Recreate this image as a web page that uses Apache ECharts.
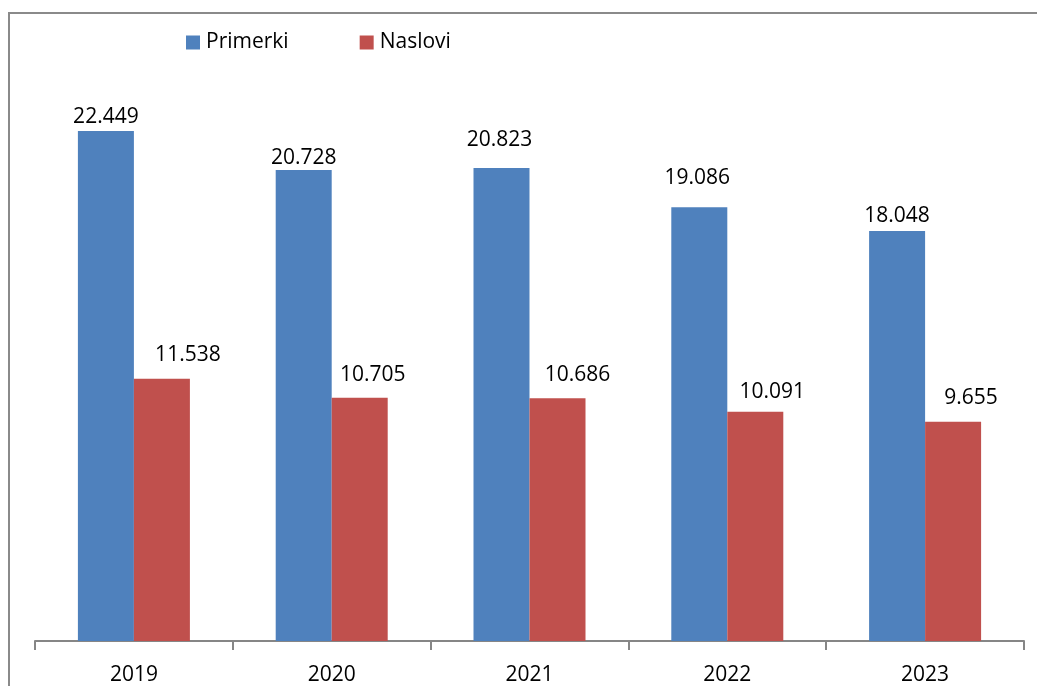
<!DOCTYPE html>
<html>
<head>
<meta charset="utf-8">
<script src="https://cdn.jsdelivr.net/npm/echarts@6/dist/echarts.min.js"></script>
<style>
  html, body { margin: 0; padding: 0; background: #fff; }
  #chart { width: 1037px; height: 686px; }
</style>
</head>
<body>
<div id="chart"></div>
<script>
// podaci
var years = ['2019', '2020', '2021', '2022', '2023'];
var primerki = [22449, 20728, 20823, 19086, 18048];
var naslovi = [11538, 10705, 10686, 10091, 9655];

// pomak oznaka (rucno pomaknute u originalu)
var primerkiLabelShift = [[0, 2], [0, 3], [-2, -12], [-2, -14], [0, 1]];
var nasloviLabelShift = [[26, -8], [13, -7], [20, -8], [17, -4], [18, -8]];

var fontFamily = '"Open Sans", "Noto Sans", sans-serif';

function fmt(v) {
    // 22449 -> 22.449
    var s = String(v);
    return s.length > 3 ? s.slice(0, s.length - 3) + '.' + s.slice(s.length - 3) : s;
}

function buildData(values, shifts) {
    var out = [];
    for (var i = 0; i < values.length; i++) {
        out.push({
            value: values[i],
            label: { offset: shifts[i] }
        });
    }
    return out;
}

var myChart = echarts.init(document.getElementById('chart'));
var option = {
    animation: false,
    backgroundColor: '#fff',
    graphic: [{
        type: 'rect',
        shape: { x: 9, y: 13, width: 1040, height: 690 },
        style: { fill: 'none', stroke: '#8a8a8a', lineWidth: 2 },
        silent: true
    }],
    legend: {
        data: ['Primerki', 'Naslovi'],
        left: 181,
        top: 27,
        itemWidth: 14,
        itemHeight: 14,
        itemGap: 71,
        icon: 'rect',
        textStyle: { fontFamily: fontFamily, fontSize: 21, color: '#000', padding: [0, 0, 0, 1] }
    },
    grid: {
        left: 35,
        right: 13,
        top: 73,
        bottom: 45,
        containLabel: false
    },
    xAxis: {
        type: 'category',
        data: years,
        axisLine: { lineStyle: { color: '#868686', width: 2 } },
        axisTick: { show: true, length: 9, lineStyle: { color: '#868686', width: 2 } },
        axisLabel: { fontFamily: fontFamily, fontSize: 21, color: '#000', margin: 24 }
    },
    yAxis: {
        type: 'value',
        min: 0,
        max: 25000,
        show: false,
        splitLine: { show: false }
    },
    series: [
        {
            name: 'Primerki',
            type: 'bar',
            data: buildData(primerki, primerkiLabelShift),
            barWidth: 56,
            barGap: '0%',
            itemStyle: { color: '#4F81BD' },
            label: {
                show: true,
                position: 'top',
                fontFamily: fontFamily,
                fontSize: 21,
                color: '#000',
                formatter: function (p) { return fmt(p.value); }
            }
        },
        {
            name: 'Naslovi',
            type: 'bar',
            data: buildData(naslovi, nasloviLabelShift),
            barWidth: 56,
            barGap: '0%',
            itemStyle: { color: '#C0504D' },
            label: {
                show: true,
                position: 'top',
                fontFamily: fontFamily,
                fontSize: 21,
                color: '#000',
                formatter: function (p) { return fmt(p.value); }
            }
        }
    ]
};
myChart.setOption(option);
</script>
</body>
</html>
